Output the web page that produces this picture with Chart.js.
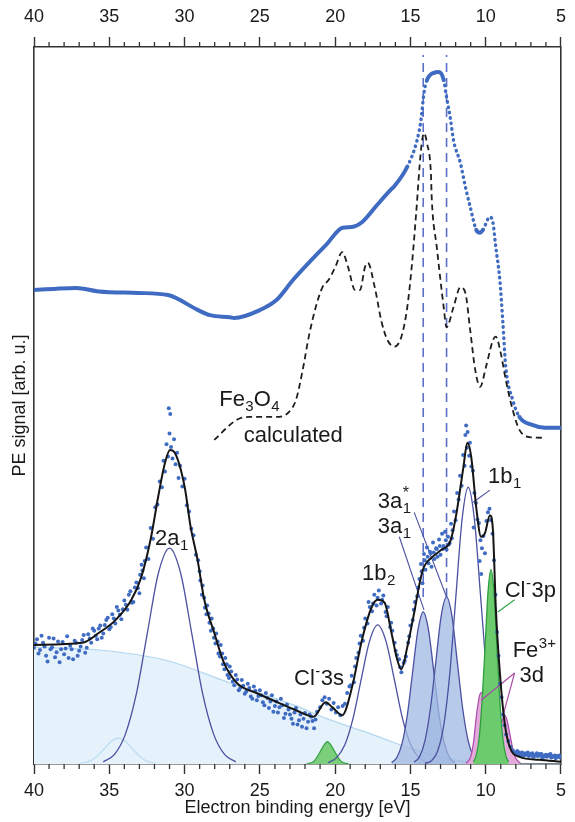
<!DOCTYPE html>
<html>
<head>
<meta charset="utf-8">
<script src="https://cdn.jsdelivr.net/npm/chart.js@4.4.1/dist/chart.umd.min.js"></script>
<style>
  html, body { margin:0; padding:0; background:#fff; }
</style>
</head>
<body>
<canvas id="chart" width="575" height="822"></canvas>
<script>
// energy axis (eV), tick labels
const majorTicks = [40, 35, 30, 25, 20, 15, 10, 5];

// upper trace: measured spectrum [E, signal]
const topExp = [[40,66.1],[38.5,66.3],[37.2,66.4],[35.7,65.9],[33.1,65.7],[31.1,65.4],[29.1,63.3],[28.3,62.6],[27.0,62.3],[26.7,62.2],[25.0,63.3],[23.9,64.7],[22.8,67.5],[21.75,69.9],[20.6,72.4],[19.5,74.8],[18.9,74.9],[18.2,75.6],[17.2,78.0],[16.3,80.1],[16.06,80.6],[15.21,83.3],[14.56,87.0],[14.3,89.8],[14.1,93.6],[13.9,95.4],[13.45,96.4],[13.12,96.5],[12.79,95.4],[12.6,93.0],[12.33,89.8],[12.14,87.0],[11.68,83.8],[11.35,80.5],[11.03,77.7],[10.63,74.5],[10.37,74.1],[10.18,74.5],[9.72,76.3],[9.52,75.5],[9.33,72.1],[9.06,67.5],[8.87,61.9],[8.67,55.4],[8.21,50.8],[7.76,48.4],[6.91,47.3],[6.06,46.9],[5.0,46.9]];

// Fe3O4 calculated (dashed)
const calcFe3O4 = [[28.03,45.2],[26.53,48.0],[25.68,48.4],[23.91,48.4],[23.06,49.1],[22.6,50.8],[22.15,55.0],[21.75,59.6],[21.29,63.7],[20.84,66.5],[20.44,67.5],[19.99,69.3],[19.53,71.4],[19.14,69.3],[18.68,66.1],[18.35,66.1],[18.02,69.3],[17.83,69.9],[17.37,66.5],[16.91,61.6],[16.52,59.1],[16.06,58.2],[15.6,59.6],[15.21,63.7],[14.89,69.9],[14.62,76.8],[14.3,85.6],[14.1,88.0],[13.9,86.6],[13.64,82.4],[13.58,78.7],[13.25,72.1],[12.79,63.7],[12.6,60.9],[12.14,63.7],[11.68,66.5],[11.35,65.7],[11.03,60.5],[10.7,55.0],[10.37,52.6],[9.98,55.4],[9.52,59.1],[9.33,59.6],[9.0,57.3],[8.67,53.6],[8.21,49.4],[7.76,46.6],[7.1,45.6],[6.06,45.5]];

// lower trace: measured points
const expBottom = [[40,16.2],[39.8,17.4],[39.6,15.9],[39.4,16.9],[39.2,15.1],[39,17.6],[38.8,16.3],[38.6,14.9],[38.4,17.1],[38.2,16.0],[38,15.3],[37.8,17.8],[37.6,16.5],[37.4,14.6],[37.2,16.9],[37,15.8],[36.8,17.3],[36.6,15.5],[36.4,18.1],[36.2,16.9],
[39.9,16.8],[39.7,15.4],[39.5,17.9],[39.3,16.4],[39.1,14.3],[38.9,16.0],[38.7,17.5],[38.5,15.6],[38.3,14.2],[38.1,17.0],[37.9,16.1],[37.7,14.8],[37.5,16.0],[37.3,17.2],[37.1,15.1],[36.9,16.4],[36.7,18.0],[36.5,16.2],[36.3,17.5],[36.1,18.9],
[36,18.6],[35.8,17.4],[35.6,19.3],[35.4,18.2],[35.2,20.1],[35,18.8],[34.8,20.9],[34.6,19.6],[34.4,21.4],[34.2,20.2],[34,22.8],[33.8,21.5],[33.6,24.1],[33.4,22.6],[33.2,25.3],[33,23.8],[32.85,27.8],[32.7,25.9],
[35.9,17.9],[35.7,18.9],[35.5,17.6],[35.3,19.4],[35.1,20.4],[34.9,19.1],[34.7,20.3],[34.5,21.9],[34.3,20.8],[34.1,21.6],[33.9,22.2],[33.7,23.6],[33.5,22.5],[33.3,24.6],[33.1,24.5],[32.95,26.4],[32.8,27.0],[32.65,28.3],
[32.55,30.2],[32.4,28.6],[32.25,32.9],[32.1,31.4],[31.95,35.8],[31.8,36.2],[31.65,39.4],[31.5,38.6],[31.4,42.3],[31.3,40.8],[31.2,44.6],[31.1,42.9],[31.05,49.6],[31.0,46.1],[30.95,48.8],[30.9,44.2],[30.8,42.6],[30.7,45.3],[30.6,41.8],[30.5,43.4],[30.4,39.9],[30.3,41.6],[30.15,38.7],[30,39.8],[29.85,36.1],[29.7,35.2],[29.55,32.8],[29.4,31.9],[29.25,29.2],
[29.1,28.4],[28.95,25.6],[28.8,24.9],[28.65,21.8],[28.5,22.1],[28.35,19.7],[28.2,20.3],[28.05,17.6],[27.9,18.2],[27.75,15.4],[27.6,16.6],[27.45,13.9],[27.3,14.8],[27.15,12.4],[27,13.6],[26.8,11.5],[26.6,12.4],[26.4,10.3],[26.2,11.7],[26,9.8],
[29.0,26.9],[28.85,23.6],[28.7,23.2],[28.55,20.9],[28.4,21.0],[28.25,18.6],[28.1,18.9],[27.95,16.8],[27.8,17.1],[27.65,15.0],[27.5,15.4],[27.35,13.2],[27.2,13.9],[27.05,12.0],[26.9,12.9],[26.7,11.0],[26.5,11.8],[26.3,10.6],[26.1,10.9],
[25.8,11.2],[25.6,9.4],[25.4,10.8],[25.2,8.9],[25,10.3],[24.8,8.6],[24.6,9.9],[24.4,7.8],[24.2,9.6],[24,8.1],[23.8,7.2],[23.6,9.1],[23.4,6.4],[23.2,8.3],[23,6.9],[22.8,5.6],[22.6,7.8],[22.4,6.1],[22.2,5.2],[22,7.1],[21.8,5.9],[21.6,6.6],[21.4,5.0],[21.2,7.3],
[25.9,10.1],[25.7,10.6],[25.5,9.1],[25.3,10.2],[25.1,9.5],[24.9,9.6],[24.7,8.2],[24.5,9.2],[24.3,8.7],[24.1,7.3],[23.9,8.7],[23.7,7.9],[23.5,8.2],[23.3,7.0],[23.1,7.6],[22.9,6.3],[22.7,7.2],[22.5,5.5],[22.3,6.9],[22.1,6.3],[21.9,5.0],[21.7,6.9],[21.5,6.0],[21.3,6.2],
[21,7.9],[20.85,8.9],[20.7,9.3],[20.55,8.4],[20.4,9.1],[20.25,7.6],[20.1,8.5],[19.95,7.2],[19.8,7.9],[19.65,6.8],[19.5,8.1],[19.35,8.4],[19.2,9.9],[19.05,10.8],[18.9,12.3],[18.75,11.4],[18.6,14.8],[18.45,15.5],[18.3,17.9],[18.15,17.2],[18,20.3],[17.85,19.6],[17.7,21.9],[17.55,21.3],[17.4,23.6],[17.25,22.1],[17.1,24.2],[16.95,22.4],[16.8,23.5],[16.65,21.2],[16.5,21.9],[16.35,19.1],[16.2,18.6],[16.05,16.9],[15.9,15.2],[15.75,14.6],[15.6,12.8],[15.45,14.1],[15.3,15.0],
[18.97,11.0],[18.68,13.6],[18.38,16.8],[18.08,19.0],[17.78,22.6],[17.48,22.4],[17.18,23.2],[16.88,22.9],[16.58,20.6],[16.28,19.7],[15.98,15.8],[15.68,13.5],[15.38,14.4],[15.08,17.8],[14.78,21.5],[14.48,24.6],[14.25,26.9],[14.05,28.4],[13.85,28.9],[13.65,29.4],[13.45,29.5],[13.25,30.0],[13.05,30.4],[12.85,30.0],[12.65,31.2],[12.45,30.6],[12.25,31.5],
[15.15,16.9],[15,19.3],[14.85,20.1],[14.7,22.6],[14.55,23.4],[14.4,25.8],[14.3,27.9],[14.2,25.2],[14.1,29.3],[14.0,27.1],[13.9,30.2],[13.8,28.0],[13.7,29.6],[13.6,27.5],[13.5,30.9],[13.4,28.6],[13.3,30.1],[13.2,28.9],[13.1,31.3],[13,29.2],[12.9,32.1],[12.8,30.4],[12.7,32.4],[12.6,29.9],[12.5,31.7],[12.4,30.8],[12.3,33.5],
[12.2,32.6],[12.1,35.2],[12,34.0],[11.9,37.8],[11.8,36.9],[11.7,40.2],[11.6,38.8],[11.5,43.1],[11.4,41.6],[11.35,45.9],[11.3,47.2],[11.25,44.1],[11.2,46.3],[11.1,43.0],[11.05,44.8],[10.95,41.5],[10.85,40.9],[10.8,33.0],[10.75,37.8],[10.65,36.4],[10.55,34.1],[10.45,33.6],[10.4,28.3],[10.35,31.2],[10.3,26.5],[10.25,30.1],[10.15,31.8],[10.05,29.4],[9.95,33.9],[9.85,35.1],[9.75,35.6],[9.65,34.0],[9.55,32.1],[9.45,28.4],[9.35,23.6],[9.25,18.4],[9.15,15.1],[9.05,11.2],[8.95,9.3],[8.85,6.9],[8.75,5.4],[8.65,4.1],[8.5,3.2],[8.35,2.4],[8.2,1.9],[8.05,1.6],
[7.9,1.8],[7.75,1.3],[7.6,1.6],[7.45,1.2],[7.3,1.5],[7.15,1.1],[7,1.4],[6.85,1.0],[6.7,1.3],[6.55,1.1],[6.4,1.4],[6.25,0.9],[6.1,1.2],[5.95,1.0],[5.8,1.3],[5.65,0.9],[5.5,1.1],[5.35,0.8],[5.2,1.0],[5.05,0.9],
[7.95,1.4],[7.8,1.6],[7.65,1.1],[7.5,1.5],[7.35,1.3],[7.2,1.6],[7.05,1.2],[6.9,1.5],[6.75,1.1],[6.6,1.5],[6.45,1.2],[6.3,1.4],[6.15,1.0],[6.0,1.3],[5.85,1.1],[5.7,1.4],[5.55,1.0],[5.4,1.2],[5.25,1.1],[5.1,1.2]];

// lower trace: fit sum
const fitLine = [[40,16.6],[36.8,16.9],[35.68,18.3],[34.57,20.1],[33.53,22.9],[32.87,26.1],[32.22,31.7],[31.76,37.2],[31.3,42.0],[30.97,43.8],[30.65,43.4],[29.99,38.6],[29.6,33.1],[29.14,28.5],[28.69,22.9],[28.03,18.3],[27.38,14.1],[26.53,11.3],[25.22,9.9],[23.71,8.5],[22.6,7.5],[21.43,6.6],[20.64,8.6],[20.18,7.9],[19.53,6.8],[18.88,10.7],[18.22,17.3],[17.57,21.9],[17.17,22.9],[16.72,22.5],[16.26,18.3],[15.87,14.5],[15.6,13.2],[15.21,16.3],[14.75,21.1],[14.3,26.1],[14.1,27.5],[13.64,28.7],[12.99,29.8],[12.33,31.2],[11.94,35.0],[11.48,41.4],[11.22,44.8],[10.96,42.8],[10.63,35.8],[10.31,31.7],[10.05,32.2],[9.72,34.7],[9.52,32.6],[9.33,21.9],[9.06,12.7],[8.74,5.7],[8.41,2.4],[7.76,1.0],[6.45,0.6],[5.0,0.3]];

// fit components
const background = [[40,16.3],[35.68,15.9],[31.3,14.5],[26.98,11.3],[25.02,9.9],[22.6,8.1],[20.64,6.4],[17.37,4.0],[14.75,2.0],[12.14,0.6],[9.52,0],[5,0]];
const bump34 = [[36.9,0.1],[36.2,0.5],[35.75,1.2],[35.3,2.2],[34.85,3.2],[34.4,3.6],[33.95,3.2],[33.5,2.2],[33.05,1.2],[32.6,0.5],[31.9,0.1]];
const peak2a1 = [[35.4,0.3],[34.67,1.3],[33.94,4.1],[33.2,9.8],[32.47,18.3],[31.74,26.6],[31.0,30.1],[30.26,26.6],[29.53,18.3],[28.8,9.8],[28.06,4.1],[27.33,1.3],[26.6,0.3]];
const peakCl3s = [[21.9,0],[21.4,0.4],[21.05,1.5],[20.75,2.6],[20.51,3.1],[20.27,2.6],[19.97,1.5],[19.62,0.4],[19.1,0]];
const peak1b2 = [[20.47,0.2],[19.92,0.85],[19.37,2.6],[18.82,6.3],[18.27,11.8],[17.72,17.1],[17.17,19.4],[16.62,17.1],[16.07,11.8],[15.52,6.3],[14.97,2.6],[14.42,0.85],[13.87,0.2]];
const peak3a1 = [[16.25,0.2],[15.9,0.9],[15.55,2.9],[15.2,6.9],[14.85,12.9],[14.5,18.7],[14.15,21.2],[13.8,18.7],[13.45,12.9],[13.1,6.9],[12.75,2.9],[12.4,0.9],[12.05,0.2]];
const peak3a1s = [[14.76,0.26],[14.4,1.0],[14.04,3.2],[13.68,7.6],[13.32,14.1],[12.96,20.6],[12.6,23.3],[12.24,20.6],[11.88,14.1],[11.52,7.6],[11.16,3.2],[10.8,1.0],[10.44,0.26]];
const peak1b1 = [[14.03,0.1],[13.62,0.43],[13.21,1.7],[12.8,5.2],[12.39,12.5],[11.98,23.4],[11.57,34.1],[11.16,38.6],[10.75,34.1],[10.34,23.4],[9.93,12.5],[9.52,5.2],[9.11,1.7],[8.7,0.43],[8.29,0.1]];
const peakFeA = [[11.3,0.1],[11.0,1.0],[10.8,3.2],[10.6,7.0],[10.4,9.6],[10.25,10.0],[10.1,9.3],[9.9,6.5],[9.7,3.0],[9.5,1.0],[9.2,0.1]];
const peakFeB = [[9.8,0.1],[9.45,0.9],[9.27,2.2],[9.09,4.1],[8.91,6.0],[8.74,6.8],[8.57,6.0],[8.39,4.1],[8.21,2.2],[8.03,0.9],[7.7,0.1]];
const peakCl3p = [[10.82,0.3],[10.63,1.2],[10.43,3.7],[10.24,8.8],[10.04,16.4],[9.85,23.9],[9.65,27.1],[9.45,23.9],[9.26,16.4],[9.06,8.8],[8.87,3.7],[8.67,1.2],[8.48,0.3]];

// vertical markers and label pointers
const markerE = [14.15, 12.6];
const markerRange = [23.3, 98.9];
const ptr3a1s = [[14.75,35.1],[12.6,23.3]];
const ptr3a1 = [[15.74,31.7],[14.1,21.5]];
const ptr1b1 = [[9.72,38.2],[10.83,36.5]];
const ptrCl3p = [[8.08,22.9],[9.2,21.2]];
const ptrFe1 = [[8.08,12.7],[10.31,8.9]];
const ptrFe2 = [[8.08,12.7],[8.87,6.6]];

const textLabels = [
  {e:27.70, v:49.9, parts:[['Fe'],['3','sub'],['O'],['4','sub']]},
  {e:26.07, v:44.9, parts:[['calculated']]},
  {e:31.96, v:30.5, parts:[['2a'],['1','sub']]},
  {e:18.22, v:25.7, parts:[['1b'],['2','sub']]},
  {e:22.73, v:11.0, parts:[['Cl'],['-','sup'],['3s']]},
  {e:17.17, v:35.7, parts:[['3a'],['1','sub'],['*','supBack']]},
  {e:17.17, v:32.2, parts:[['3a'],['1','sub']]},
  {e:9.85, v:39.2, parts:[['1b'],['1','sub']]},
  {e:8.74, v:23.3, parts:[['Cl'],['-','sup'],['3p']]},
  {e:8.21, v:14.9, parts:[['Fe'],['3+','sup']]},
  {e:7.76, v:11.4, parts:[['3d']]}
];

const FONT = '"Liberation Sans", Arial, sans-serif';
Chart.defaults.font.family = FONT;
Chart.defaults.color = '#1a1a1a';

const blue = '#3f6cc2';
const compLine = '#4b50a0';

function line(data, opts){
  return Object.assign({type:'line', data:data, xAxisID:'x', yAxisID:'y', pointRadius:0,
    borderWidth:1.3, fill:false, cubicInterpolationMode:'monotone'}, opts);
}

function straight(data, color, width, dash){
  return line(data, {cubicInterpolationMode:'default', tension:0, borderColor:color, borderWidth:width, borderDash:dash || []});
}

function steep(ctx){
  return Math.abs(ctx.p1.y - ctx.p0.y) > 1.6 * Math.abs(ctx.p1.x - ctx.p0.x);
}

// bottom-to-top drawing order
const layers = [
  line(background, {fill:'origin', backgroundColor:'#e5f1fb', borderColor:'#b3d7ef', borderWidth:1.2}),
  line(bump34, {borderColor:'#b9dcf1', borderWidth:1.2}),
  line(peak2a1, {borderColor:compLine}),
  line(peakCl3s, {fill:'origin', backgroundColor:'#7bcf7b', borderColor:'#3aa54a'}),
  line(peak1b2, {borderColor:compLine}),
  line(peak3a1, {fill:'origin', backgroundColor:'rgba(160,184,225,0.75)', borderColor:compLine}),
  line(peak3a1s, {fill:'origin', backgroundColor:'rgba(160,184,225,0.75)', borderColor:compLine}),
  line(peak1b1, {borderColor:compLine}),
  line(peakFeA, {fill:'origin', backgroundColor:'#e2abd9', borderColor:'#b050b0'}),
  line(peakFeB, {fill:'origin', backgroundColor:'#e2abd9', borderColor:'#b050b0'}),
  line(peakCl3p, {fill:'origin', backgroundColor:'#6ccb6c', borderColor:'#2f9e3f'}),
  straight([[markerE[0], markerRange[0]],[markerE[0], markerRange[1]]], '#5d6fc6', 1.6, [9,6]),
  straight([[markerE[1], markerRange[0]],[markerE[1], markerRange[1]]], '#5d6fc6', 1.6, [9,6]),
  straight(ptr3a1s, compLine, 1.1),
  straight(ptr3a1, compLine, 1.1),
  straight(ptr1b1, compLine, 1.1),
  straight(ptrCl3p, '#35a84a', 1.3),
  straight(ptrFe1, '#a64ca6', 1.2),
  straight(ptrFe2, '#a64ca6', 1.2),
  line(topExp, {borderColor:blue, borderWidth:4, borderCapStyle:'round',
    segment:{
      borderDash: ctx => steep(ctx) ? [0.5, 5] : undefined,
      borderWidth: ctx => steep(ctx) ? 3.4 : undefined
    }}),
  line(calcFe3O4, {borderColor:'#1e1e1e', borderWidth:1.8, borderDash:[6,4]}),
  {type:'scatter', data:expBottom, xAxisID:'x', yAxisID:'y', pointRadius:2, pointBorderWidth:0, backgroundColor:blue, borderColor:blue},
  line(fitLine, {borderColor:'#151515', borderWidth:2})
];
layers.forEach((d, i) => { d.order = layers.length - i; });

const minorTicks = {
  id:'minorTicks',
  afterDraw(chart){
    const {ctx, chartArea:a} = chart;
    const xs = chart.scales.x;
    ctx.save();
    ctx.strokeStyle = '#333';
    ctx.lineWidth = 1.3;
    for (let e = 6; e < 40; e++) {
      if (e % 5 === 0) continue;
      const px = xs.getPixelForValue(e);
      ctx.beginPath();
      ctx.moveTo(px, a.bottom); ctx.lineTo(px, a.bottom + 5);
      ctx.moveTo(px, a.top); ctx.lineTo(px, a.top - 5);
      ctx.stroke();
    }
    ctx.restore();
  }
};

const peakLabels = {
  id:'peakLabels',
  afterDraw(chart){
    const {ctx} = chart;
    const xs = chart.scales.x, ys = chart.scales.y;
    ctx.save();
    ctx.fillStyle = '#1a1a1a';
    ctx.textBaseline = 'alphabetic';
    ctx.textAlign = 'left';
    textLabels.forEach(l => {
      let x = xs.getPixelForValue(l.e);
      const y = ys.getPixelForValue(l.v);
      let lastX = x;
      l.parts.forEach(p => {
        const mode = p[1] || '';
        if (mode === '') {
          ctx.font = '22px ' + FONT;
          ctx.fillText(p[0], x, y);
          lastX = x; x += ctx.measureText(p[0]).width;
        } else if (mode === 'sub') {
          ctx.font = '15px ' + FONT;
          ctx.fillText(p[0], x + 0.5, y + 5);
          lastX = x; x += ctx.measureText(p[0]).width + 0.5;
        } else if (mode === 'sup') {
          ctx.font = '15px ' + FONT;
          ctx.fillText(p[0], x + 0.5, y - 9);
          lastX = x; x += ctx.measureText(p[0]).width + 1;
        } else if (mode === 'supBack') {
          ctx.font = '16px ' + FONT;
          ctx.fillText(p[0], lastX + 0.5, y - 10);
        }
      });
    });
    ctx.restore();
  }
};

const axisTicks = { font:{size:18}, color:'#1a1a1a' };
const axisBorder = { color:'#333', width:1.6 };

new Chart(document.getElementById('chart'), {
  type:'scatter',
  data:{ datasets: layers },
  options:{
    responsive:false,
    animation:false,
    events:[],
    layout:{ padding:0 },
    plugins:{ legend:{display:false}, tooltip:{enabled:false} },
    scales:{
      x:{
        type:'linear', position:'bottom', min:5, max:40, reverse:true,
        afterBuildTicks: s => { s.ticks = majorTicks.map(v => ({value:v})); },
        afterFit: s => { s.height = 58; },
        ticks:Object.assign({padding:6}, axisTicks),
        grid:{drawOnChartArea:false, tickLength:10, tickColor:'#333', tickWidth:1.4},
        border:axisBorder,
        title:{display:true, text:'Electron binding energy [eV]', font:{size:18}, color:'#1a1a1a', padding:{top:0, bottom:3}}
      },
      xTop:{
        type:'linear', position:'top', min:5, max:40, reverse:true,
        afterBuildTicks: s => { s.ticks = majorTicks.map(v => ({value:v})); },
        afterFit: s => { s.height = 47; },
        ticks:Object.assign({padding:9}, axisTicks),
        grid:{drawOnChartArea:false, tickLength:10, tickColor:'#333', tickWidth:1.4},
        border:axisBorder
      },
      y:{
        type:'linear', position:'left', min:0, max:100,
        afterFit: s => { s.width = 34; },
        ticks:{display:false},
        grid:{display:false},
        border:axisBorder,
        title:{display:true, text:'PE signal [arb. u.]', font:{size:18}, color:'#1a1a1a', padding:{top:9, bottom:0}}
      },
      yR:{
        type:'linear', position:'right', min:0, max:100,
        afterFit: s => { s.width = 6; },
        ticks:{display:false},
        grid:{display:false},
        border:axisBorder
      }
    }
  },
  plugins:[minorTicks, peakLabels]
});
</script>
</body>
</html>
